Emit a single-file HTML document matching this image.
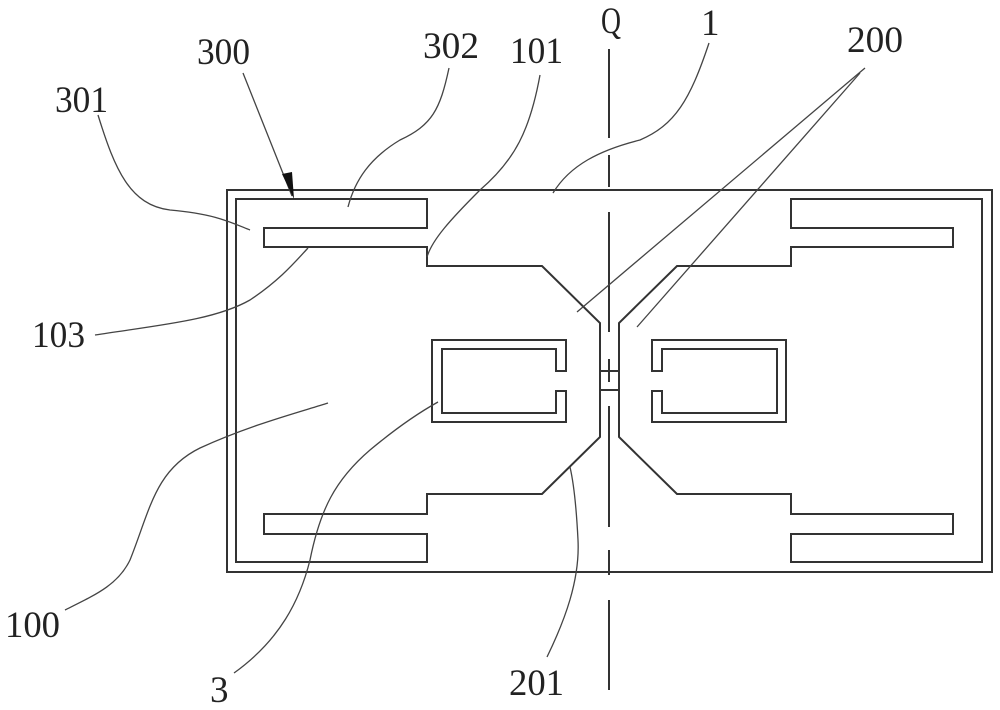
<!DOCTYPE html>
<html><head><meta charset="utf-8"><style>
html,body{margin:0;padding:0;background:#fff;}
svg{display:block;}
text{font-family:"Liberation Serif",serif;font-size:37px;fill:#222;}
</style></head><body>
<svg width="1000" height="710" viewBox="0 0 1000 710" xmlns="http://www.w3.org/2000/svg">
<g fill="none" stroke="#333" stroke-width="2">
<rect x="227" y="190" width="765" height="382"/>
<polygon points="236,199 427,199 427,228 264,228 264,247 427,247 427,266 542,266 600,323 600,437 542,494 427,494 427,514 264,514 264,534 427,534 427,562 236,562"/>
<polygon points="982,199 791,199 791,228 953,228 953,247 791,247 791,266 677,266 619,323 619,437 677,494 791,494 791,514 953,514 953,534 791,534 791,562 982,562"/>
<line x1="600" y1="371" x2="619" y2="371"/>
<line x1="600" y1="390" x2="619" y2="390"/>
<polygon points="566,371 566,340 432,340 432,422 566,422 566,391 556,391 556,413 442,413 442,349 556,349 556,371"/>
<polygon points="652,371 652,340 786,340 786,422 652,422 652,391 662,391 662,413 777,413 777,349 662,349 662,371"/>
</g>
<g stroke="#333" stroke-width="2">
<line x1="609" y1="49" x2="609" y2="138"/>
<line x1="609" y1="155" x2="609" y2="187"/>
<line x1="609" y1="212" x2="609" y2="332"/>
<line x1="609" y1="359" x2="609" y2="382"/>
<line x1="609" y1="406" x2="609" y2="527"/>
<line x1="609" y1="550" x2="609" y2="575"/>
<line x1="609" y1="600" x2="609" y2="690"/>
</g>
<g fill="none" stroke="#444" stroke-width="1.3">
<line x1="243" y1="73" x2="292" y2="196"/>
<path d="M449,68 C440,110 432,125 400,140 C370,158 355,180 348,207"/>
<path d="M98,115 C115,170 130,205 170,210 C215,214 230,222 250,230"/>
<path d="M540,75 C530,130 515,160 480,190 C450,220 432,240 427,257"/>
<path d="M95,335 C160,325 215,320 250,300 C280,280 295,262 308,248"/>
<path d="M709,43 C690,100 675,125 640,140 C600,150 570,165 553,193"/>
<line x1="865" y1="68" x2="577" y2="312"/>
<line x1="860" y1="73" x2="637" y2="327"/>
<path d="M65,610 C95,595 118,585 130,560 C150,510 155,470 200,448 C250,425 300,412 328,403"/>
<path d="M234,673 C280,640 300,600 310,560 C320,510 335,480 370,450 C400,425 420,412 438,402"/>
<path d="M547,657 C565,620 580,580 578,540 C576,500 573,480 570,467"/>
</g>
<polygon points="282,174 292,172 294,199" fill="#111"/>
<text x="197" y="64" textLength="53" lengthAdjust="spacingAndGlyphs">300</text>
<text x="423" y="58" textLength="56" lengthAdjust="spacingAndGlyphs">302</text>
<text x="510" y="63" textLength="53" lengthAdjust="spacingAndGlyphs">101</text>
<text x="55" y="112" textLength="53" lengthAdjust="spacingAndGlyphs">301</text>
<text x="32" y="347" textLength="53" lengthAdjust="spacingAndGlyphs">103</text>
<text x="601" y="33" textLength="20" lengthAdjust="spacingAndGlyphs">Q</text>
<text x="701" y="35">1</text>
<text x="847" y="52" textLength="56" lengthAdjust="spacingAndGlyphs">200</text>
<text x="5" y="637" textLength="55" lengthAdjust="spacingAndGlyphs">100</text>
<text x="210" y="702">3</text>
<text x="509" y="695" textLength="55" lengthAdjust="spacingAndGlyphs">201</text>
</svg>
</body></html>
